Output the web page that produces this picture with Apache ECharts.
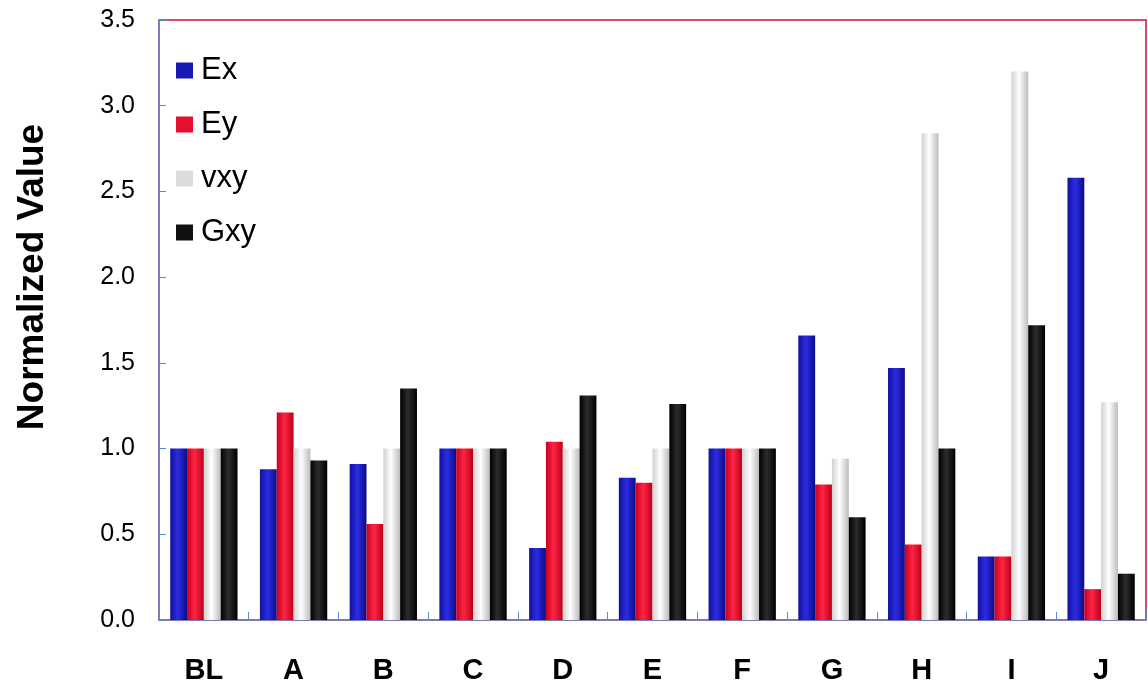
<!DOCTYPE html>
<html><head><meta charset="utf-8">
<script src="https://cdn.jsdelivr.net/npm/echarts@6/dist/echarts.min.js"></script>
<style>html,body{margin:0;padding:0;background:#fff}#c{width:1148px;height:681px}</style>
</head><body><div id="c"></div>
<script>
const categories = ['BL','A','B','C','D','E','F','G','H','I','J'];
const Ex  = [1.00,0.88,0.91,1.00,0.42,0.83,1.00,1.66,1.47,0.37,2.58];
const Ey  = [1.00,1.21,0.56,1.00,1.04,0.80,1.00,0.79,0.44,0.37,0.18];
const vxy = [1.00,1.00,1.00,1.00,1.00,1.00,1.00,0.94,2.84,3.20,1.27];
const Gxy = [1.00,0.93,1.35,1.00,1.31,1.26,1.00,0.60,1.00,1.72,0.27];
const yTicks = [0,0.5,1,1.5,2,2.5,3,3.5];

function grad(a,b,c){return {type:'linear',x:0,y:0,x2:1,y2:0,colorStops:[{offset:0,color:a},{offset:0.45,color:b},{offset:1,color:c}]};}
const styles = {
  Ex:{fill:grad('#10109c','#2c2ce2','#0c0c86'), solid:'#1818b4'},
  Ey:{fill:grad('#c8001c','#ff2444','#bc001a'), solid:'#e8102e'},
  vxy:{fill:grad('#d0d0d0','#ffffff','#bcbcbc'), solid:'#dcdcdc'},
  Gxy:{fill:grad('#000000','#2c2c2c','#000000'), solid:'#111111'}
};
const seriesData = {Ex, Ey, vxy, Gxy};
const FONT = 'Liberation Sans, Arial, sans-serif';
const chart = echarts.init(document.getElementById('c'));
chart.setOption({
  animation:false,
  backgroundColor:'#fff',
  grid:{left:159,right:2,top:20,bottom:61,containLabel:false,outerBoundsMode:'none',show:true,borderColor:'#d0103a',borderWidth:1.5,backgroundColor:'transparent'},
  legend:{
    orient:'vertical',left:176,top:55,padding:0,itemGap:23,itemWidth:17,itemHeight:16,icon:'rect',
    textStyle:{fontFamily:FONT,fontSize:31,lineHeight:31,color:'#000',padding:[0,0,0,3]},
    data:Object.keys(seriesData).map(k=>({name:k,itemStyle:{color:styles[k].solid}}))
  },
  xAxis:{
    type:'category',data:categories,
    axisLine:{lineStyle:{color:'#5b8bd0',width:1.5}},
    axisTick:{show:true,inside:true,length:8,lineStyle:{color:'#5b8bd0'}},
    axisLabel:{fontFamily:FONT,fontSize:29,fontWeight:'bold',color:'#000',margin:36}
  },
  yAxis:{
    type:'value',min:yTicks[0],max:yTicks[yTicks.length-1],interval:0.5,
    name:'Normalized Value',nameLocation:'middle',nameGap:108,
    nameTextStyle:{fontFamily:FONT,fontSize:37,fontWeight:'bold',color:'#000',padding:[0,0,0,86]},
    axisLine:{show:true,lineStyle:{color:'#5b8bd0',width:1.5}},
    axisTick:{show:true,inside:true,length:7,lineStyle:{color:'#5b8bd0'}},
    splitLine:{show:false},
    axisLabel:{fontFamily:FONT,fontSize:25,color:'#000',margin:24,formatter:v=>v.toFixed(1)}
  },
  series:Object.keys(seriesData).map(k=>({
    name:k,type:'bar',data:seriesData[k],barGap:'0%',barCategoryGap:'25%',
    itemStyle:{color:styles[k].fill}
  }))
});
</script></body></html>
